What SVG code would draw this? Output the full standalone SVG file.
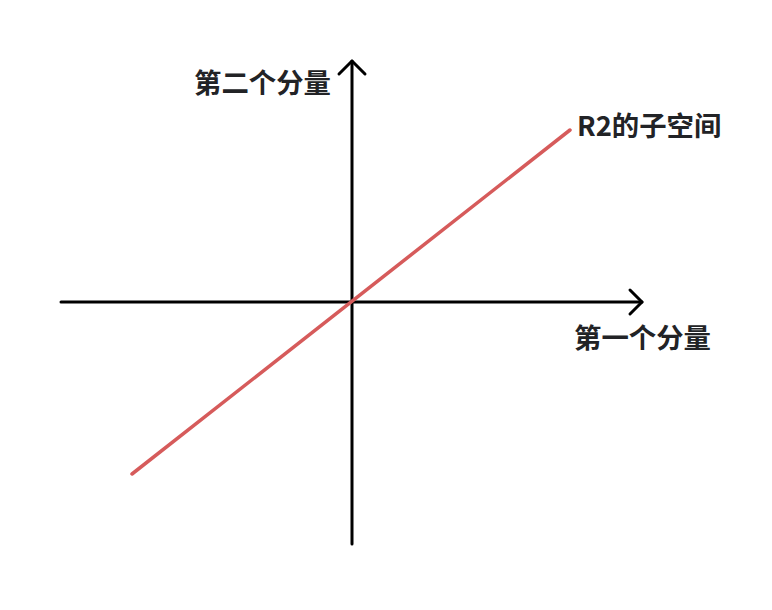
<svg xmlns="http://www.w3.org/2000/svg" width="772" height="610" viewBox="0 0 772 610">
<style>
.axis{stroke:#000;stroke-width:3;fill:none;stroke-linecap:round;stroke-linejoin:round}
.sub{stroke:#d65b5b;stroke-width:3.5;stroke-linecap:round;fill:none}
.lbl{font-family:"Noto Sans CJK SC","Noto Sans",sans-serif;font-weight:bold;font-size:27.4px;fill:#222326}
</style>
<rect width="772" height="610" fill="#fff"/>
<g id="connectors">
<line class="axis" x1="61" y1="302" x2="642" y2="302"/>
<polyline class="axis" points="630,290 642,302 630,314"/>
<line class="axis" x1="352" y1="544" x2="352" y2="61"/>
<polyline class="axis" points="339,74 352,61 365,74"/>
<line class="sub" x1="132" y1="474" x2="570" y2="130"/>
</g>
<g id="label-y"><text class="lbl" x="194" y="93">第二个分量</text></g>
<g id="label-sub"><text class="lbl" x="577" y="136">R2的子空间</text></g>
<g id="label-x"><text class="lbl" x="574" y="348">第一个分量</text></g>
</svg>
